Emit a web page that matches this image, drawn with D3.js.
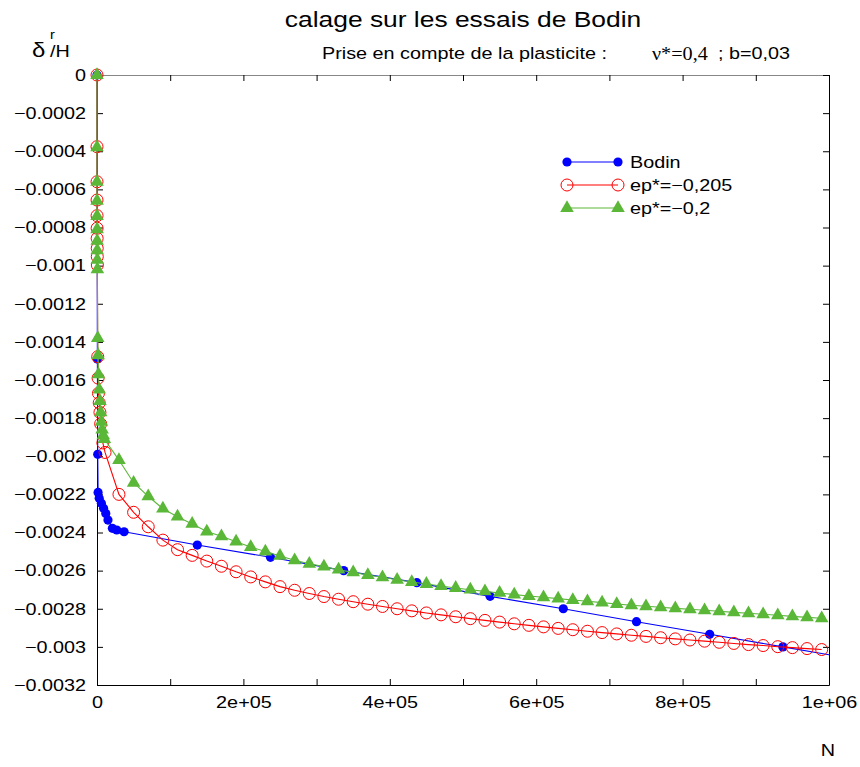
<!DOCTYPE html>
<html>
<head>
    <meta charset="utf-8">
    <style type="text/css">
        body { margin: 0; background: #fff; }
        text { font-family: "Liberation Sans", Arial, sans-serif; fill: #000; }
        .serif { font-family: "Liberation Serif", "Times New Roman", serif; }
    </style>
    <script src="https://d3js.org/d3.v7.min.js" charset="utf-8"></script>
</head>
<body>
    <svg id="mySvg" width="860" height="767"></svg>
</body>
<script type="text/javascript">
// Bodin test data (N, delta r / H)
const bodinN = [0, 500, 1000, 1500, 3000, 6000, 9000, 12000, 15000, 21000, 27000, 37000,
    137000, 237000, 337000, 437000, 537000, 637000, 737000, 837000, 937000, 1037000];
const bodinD = [0, -0.00149, -0.00199, -0.00219, -0.00222, -0.002247, -0.002273, -0.0023, -0.002335, -0.002378, -0.002387, -0.002396,
    -0.002466, -0.00253, -0.0026, -0.002663, -0.002735, -0.0028, -0.002868, -0.002934, -0.003, -0.003066];

// computed points, same N for both models after the first cycles
const earlyN205 = [0, 10, 30, 60, 100, 150, 200, 300, 400, 500, 1000, 1500, 2000, 3000, 4000, 5000, 8000, 11000];
const earlyD205 = [0, -0.000376, -0.00056, -0.000656, -0.000738, -0.000804, -0.000857, -0.000909, -0.000953, -0.000997,
    -0.001478, -0.00159, -0.00167, -0.00172, -0.00177, -0.00183, -0.00193, -0.00198];
const earlyN2 = [0, 10, 30, 60, 100, 150, 200, 300, 400, 500, 1000, 1500, 2000, 3000, 4000, 5000, 6000, 7000, 8500, 10000];
const earlyD2 = [0, -0.00038, -0.00056, -0.00066, -0.00074, -0.00081, -0.00087, -0.00092, -0.00097, -0.00102,
    -0.00138, -0.00147, -0.00157, -0.00165, -0.00171, -0.00177, -0.00182, -0.00186, -0.00189, -0.00191];

const lateN = [30000, 50000, 70000, 90000, 110000, 130000, 150000, 170000, 190000, 210000, 230000,
    250000, 270000, 290000, 310000, 330000, 350000, 370000, 390000, 410000, 430000, 450000, 470000, 490000,
    510000, 530000, 550000, 570000, 590000, 610000, 630000, 650000, 670000, 690000, 710000, 730000, 750000,
    770000, 790000, 810000, 830000, 850000, 870000, 890000, 910000, 930000, 950000, 970000, 990000];
const lateD205 = [-0.0022, -0.002294, -0.00237, -0.00244, -0.00249, -0.00252, -0.00255, -0.002577, -0.002606, -0.002633, -0.002659,
    -0.002684, -0.002703, -0.00272, -0.002736, -0.00275, -0.002763, -0.002776, -0.002788, -0.0028, -0.002811, -0.002822, -0.002832, -0.002842,
    -0.002852, -0.002861, -0.00287, -0.002879, -0.002887, -0.002895, -0.002903, -0.00291, -0.002918, -0.002925, -0.002932, -0.002939, -0.002945,
    -0.002952, -0.002958, -0.002964, -0.00297, -0.002976, -0.002982, -0.002988, -0.002993, -0.002999, -0.003004, -0.003009, -0.003014];
const lateD2 = [-0.00202, -0.002139, -0.00221, -0.002275, -0.002317, -0.002355, -0.002395, -0.00242, -0.002448, -0.002476, -0.0025,
    -0.002523, -0.002546, -0.002564, -0.002579, -0.002595, -0.002609, -0.002623, -0.002635, -0.002648, -0.00266, -0.00267, -0.002681, -0.002691,
    -0.0027, -0.002709, -0.002717, -0.002726, -0.002733, -0.00274, -0.002747, -0.002754, -0.002761, -0.002768, -0.002775, -0.002782, -0.002787,
    -0.002792, -0.002798, -0.002803, -0.002808, -0.002813, -0.002819, -0.002824, -0.002829, -0.002834, -0.00284, -0.002845, -0.00285];

const seriesNames = ['Bodin', 'ep*=\u22120,205', 'ep*=\u22120,2'];
const xTickValues = d3.range(0, 1000001, 100000);
const yTickValues = d3.range(0, 17).map(i => -i * 0.0002);

const zip = (a, b) => a.map((v, i) => [v, b[i]]);
const series = [
    { name: seriesNames[0], pts: zip(bodinN, bodinD), color: '#0000ff', mark: 'dot' },
    { name: seriesNames[1], pts: zip(earlyN205, earlyD205).concat(zip(lateN, lateD205)), color: '#ff0000', mark: 'ring' },
    { name: seriesNames[2], pts: zip(earlyN2, earlyD2).concat(zip(lateN, lateD2)), color: '#5ab738', mark: 'tri' }
];

const SX = 1.2;  // gnuplot fonts come out wider than Arial
const svg = d3.select('#mySvg');
const x = d3.scaleLinear().domain([0, 1e6]).range([97, 829]);
const y = d3.scaleLinear().domain([-0.0032, 0]).range([685, 75]);

function label(px, py, str, size, anchor, cls) {
    return svg.append('text')
        .attr('class', cls || null)
        .attr('transform', `translate(${px},${py}) scale(${SX},1)`)
        .attr('text-anchor', anchor || 'start')
        .style('font-size', size + 'px')
        .text(str);
}

// axes, ticks inward on all four sides
function fmtX(d) {
    if (d === 0) return '0';
    return d3.format('.0e')(d).replace(/e([+-])(\d)$/, 'e$10$2');
}
const fmtY = d => d === 0 ? '0' : '\u2212' + d3.format('.4~f')(-d);

const gB = svg.append('g').attr('transform', 'translate(0,685)')
    .call(d3.axisBottom(x).tickValues(xTickValues).tickSizeInner(-6).tickSizeOuter(0).tickPadding(11)
        .tickFormat((d, i) => i % 2 ? '' : fmtX(d)));
const gL = svg.append('g').attr('transform', 'translate(97,0)')
    .call(d3.axisLeft(y).tickValues(yTickValues).tickSizeInner(-6).tickSizeOuter(0).tickPadding(11)
        .tickFormat(fmtY));
const gT = svg.append('g').attr('transform', 'translate(0,75)')
    .call(d3.axisTop(x).tickValues(xTickValues).tickSizeInner(-6).tickSizeOuter(0).tickFormat(''));
const gR = svg.append('g').attr('transform', 'translate(829,0)')
    .call(d3.axisRight(y).tickValues(yTickValues).tickSizeInner(-6).tickSizeOuter(0).tickFormat(''));

[gB, gL, gT, gR].forEach(g => {
    g.selectAll('text').style('font-size', '16.5px').style('font-family', '"Liberation Sans", Arial, sans-serif').attr('fill', '#000');
    g.selectAll('line').attr('stroke', '#000');
});
gL.selectAll('text').attr('x', -11 / SX).attr('transform', `scale(${SX},1)`);
gB.selectAll('text').attr('transform', `scale(${SX},1)`);
gT.select('.domain').attr('stroke', '#888');
gL.select('.domain').attr('stroke', '#000');

svg.append('clipPath').attr('id', 'plotClip')
    .append('rect').attr('x', 90).attr('y', 60).attr('width', 739).attr('height', 640);

function drawMark(g, mark, color, px, py) {
    if (mark === 'dot') {
        g.append('circle').attr('cx', px).attr('cy', py).attr('r', 4.6).attr('fill', color);
    } else if (mark === 'ring') {
        g.append('circle').attr('cx', px).attr('cy', py).attr('r', 6)
            .attr('fill', 'none').attr('stroke', color).attr('stroke-width', 1);
    } else {
        g.append('path').attr('d', d3.symbol(d3.symbolTriangle, 80)())
            .attr('transform', `translate(${px},${py})`).attr('fill', color);
    }
}

const line = d3.line().x(d => x(d[0])).y(d => y(d[1]));
series.forEach(s => {
    const g = svg.append('g');
    g.append('path').datum(s.pts).attr('d', line)
        .attr('clip-path', 'url(#plotClip)')
        .attr('fill', 'none').attr('stroke', s.color).attr('stroke-width', 1.1);
    s.pts.filter(p => p[0] <= 1e6).forEach(p => drawMark(g, s.mark, s.color, x(p[0]), y(p[1])));
});

// legend
series.forEach((s, i) => {
    const ly = 162 + i * 23;
    const g = svg.append('g');
    g.append('line').attr('x1', 567).attr('x2', 618).attr('y1', ly).attr('y2', ly)
        .attr('stroke', s.color).attr('stroke-width', 1.1);
    drawMark(g, s.mark, s.color, 567, ly);
    drawMark(g, s.mark, s.color, 618, ly);
    label(630, ly + 6, s.name, 16.5);
});

// titles
label(463, 27, 'calage sur les essais de Bodin', 22, 'middle');
label(322, 59, 'Prise en compte de la plasticite :', 16.5);
svg.append('text').attr('class', 'serif')
    .attr('transform', `translate(652,60) scale(1.12,1)`)
    .style('font-size', '18px').text('\u03bd*=0,4');
label(718, 59, '; b=0,03', 16.5);
label(32, 57, '\u03b4', 20);
label(50, 39, 'r', 12);
label(50, 57, '/H', 16.5);
label(828, 756, 'N', 16.5, 'middle');
</script>
</html>
